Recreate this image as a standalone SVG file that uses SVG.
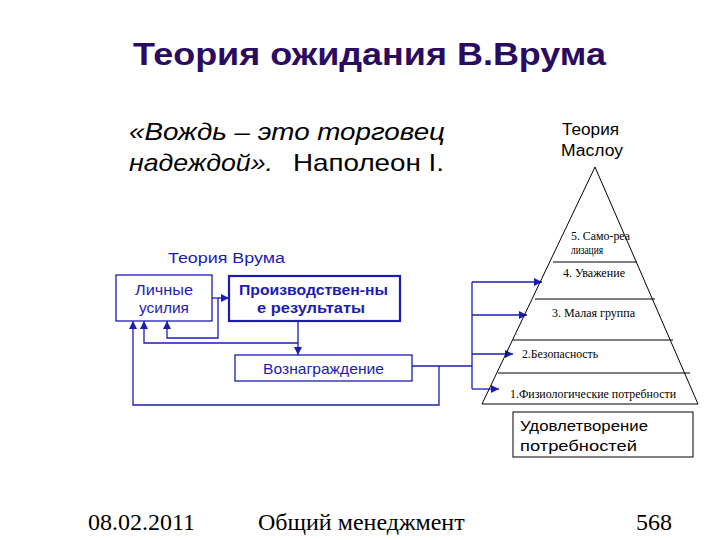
<svg xmlns="http://www.w3.org/2000/svg" width="720" height="540" viewBox="0 0 720 540">
<style>
.sans{font-family:"Liberation Sans",Arial,sans-serif}
.serif{font-family:"Liberation Serif","Times New Roman",serif}
.blue{fill:#1c1cb4}
.conn{fill:none;stroke:#1c1cb4;stroke-width:1.3}
.box{fill:#fff;stroke:#1c1cb4;stroke-width:1.3}
.pl{stroke:#000;stroke-width:1}
.pt{font-family:"Liberation Serif","Times New Roman",serif;font-size:12px;fill:#000}
</style>
<defs>
<marker id="ah" viewBox="0 0 10 10" refX="10" refY="5" markerWidth="8" markerHeight="8" markerUnits="userSpaceOnUse" orient="auto">
<path d="M0,0 L10,5 L0,10 z" fill="#1c1cb4"/>
</marker>
</defs>
<rect width="720" height="540" fill="#fff"/>
<text x="133" y="65" class="sans" font-size="32" font-weight="bold" fill="#2b0b62" textLength="473" lengthAdjust="spacingAndGlyphs">Теория ожидания В.Врума</text>
<g id="quote" class="sans" font-size="24" fill="#000">
<text x="129" y="140" font-style="italic" textLength="316" lengthAdjust="spacingAndGlyphs">«Вождь – это торговец</text>
<text x="129" y="171" font-style="italic" textLength="144" lengthAdjust="spacingAndGlyphs">надеждой».</text>
<text x="293" y="171" textLength="151" lengthAdjust="spacingAndGlyphs">Наполеон I.</text>
</g>
<g id="maslow-title" class="sans" font-size="16" fill="#000">
<text x="562" y="135" textLength="57" lengthAdjust="spacingAndGlyphs">Теория</text>
<text x="561" y="156" textLength="62" lengthAdjust="spacingAndGlyphs">Маслоу</text>
</g>
<text id="vroom-title" x="168" y="263" class="sans blue" font-size="15.5" textLength="117" lengthAdjust="spacingAndGlyphs">Теория Врума</text>
<g id="connectors">
<path class="conn" d="M212,298 H229" marker-end="url(#ah)"/>
<path class="conn" d="M218,298 V338 H167 V321" marker-end="url(#ah)"/>
<path class="conn" d="M298,321 V355" marker-end="url(#ah)"/>
<path class="conn" d="M298,343 H144 V321" marker-end="url(#ah)"/>
<path class="conn" d="M412,366 H472"/>
<path class="conn" d="M439,366 V405 H133 V321" marker-end="url(#ah)"/>
<path class="conn" d="M472,282 V389"/>
<path class="conn" d="M472,282 H542" marker-end="url(#ah)"/>
<path class="conn" d="M472,315 H527" marker-end="url(#ah)"/>
<path class="conn" d="M472,354 H513" marker-end="url(#ah)"/>
<path class="conn" d="M472,389 H499" marker-end="url(#ah)"/>
</g>
<g id="effort">
<rect class="box" x="116" y="275" width="96" height="46"/>
<text class="sans blue" font-size="15"><tspan x="135" y="295" textLength="58" lengthAdjust="spacingAndGlyphs">Личные</tspan></text>
<text class="sans blue" font-size="15"><tspan x="139" y="313" textLength="50" lengthAdjust="spacingAndGlyphs">усилия</tspan></text>
</g>
<g id="results">
<rect x="229" y="276" width="171" height="45" fill="#fff" stroke="#1c1cb4" stroke-width="2.2"/>
<text class="sans blue" font-size="15" font-weight="bold" x="239" y="295" textLength="149" lengthAdjust="spacingAndGlyphs">Производствен-ны</text>
<text class="sans blue" font-size="15" font-weight="bold" x="257" y="313" textLength="108" lengthAdjust="spacingAndGlyphs">е результаты</text>
</g>
<g id="reward">
<rect class="box" x="235" y="355" width="177" height="26"/>
<text class="sans blue" font-size="15" x="263" y="374" textLength="121" lengthAdjust="spacingAndGlyphs">Вознаграждение</text>
</g>
<g id="pyramid">
<polygon points="595,167 482,404 698,404" fill="none" stroke="#000" stroke-width="1"/>
<line class="pl" x1="553" y1="262" x2="637" y2="262"/>
<line class="pl" x1="535" y1="299" x2="655" y2="299"/>
<line class="pl" x1="513" y1="340" x2="673" y2="340"/>
<line class="pl" x1="498" y1="373" x2="690" y2="373"/>
<text class="pt" x="571" y="240" font-size="10.5" textLength="59" lengthAdjust="spacingAndGlyphs">5. Само-реа</text>
<text class="pt" x="571" y="254" font-size="10.5" textLength="32" lengthAdjust="spacingAndGlyphs">лизация</text>
<text class="pt" x="563" y="277" textLength="62" lengthAdjust="spacingAndGlyphs">4. Уважение</text>
<text class="pt" x="552" y="317" textLength="83" lengthAdjust="spacingAndGlyphs">3. Малая группа</text>
<text class="pt" x="522" y="358" textLength="76" lengthAdjust="spacingAndGlyphs">2.Безопасность</text>
<text class="pt" x="510" y="398" textLength="166" lengthAdjust="spacingAndGlyphs">1.Физиологические потребности</text>
</g>
<g id="satisfaction">
<rect x="513" y="412" width="180" height="45" fill="#fff" stroke="#000" stroke-width="1"/>
<text class="sans" font-size="15" fill="#000" x="520" y="431" textLength="128" lengthAdjust="spacingAndGlyphs">Удовлетворение</text>
<text class="sans" font-size="15" fill="#000" x="520" y="451" textLength="117" lengthAdjust="spacingAndGlyphs">потребностей</text>
</g>
<g id="footer" class="serif" font-size="24" fill="#000">
<text x="88" y="530">08.02.2011</text>
<text x="258" y="530">Общий менеджмент</text>
<text x="636" y="530">568</text>
</g>
</svg>
